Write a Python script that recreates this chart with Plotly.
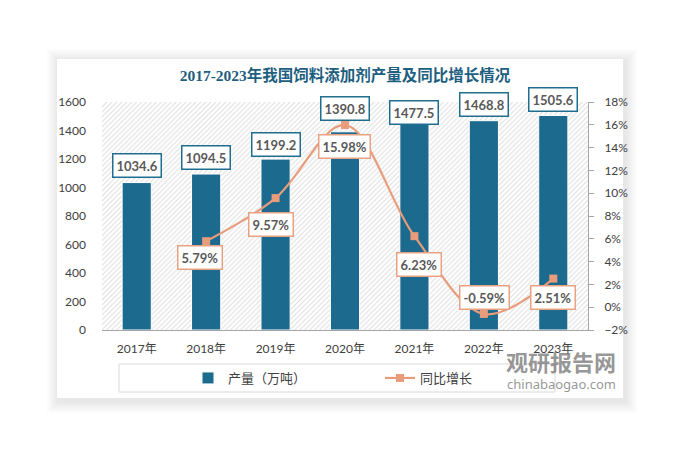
import plotly.graph_objects as go

years = ["2017年", "2018年", "2019年", "2020年", "2021年", "2022年", "2023年"]
output = [1034.6, 1094.5, 1199.2, 1390.8, 1477.5, 1468.8, 1505.6]
growth_years = ["2018年", "2019年", "2020年", "2021年", "2022年", "2023年"]
growth = [5.79, 9.57, 15.98, 6.23, -0.59, 2.51]

# label offsets (px) for readability, as in the reference
bar_label_shift = [15, 14, 12, 21, 4, 14, 13]
line_label_shift = [(-6, -16), (-5, -26), (-1, -21), (5, -28), (1, 16), (0, -19)]

BAR = "#1C6A8D"
LINE = "#E89C7B"
TXT = "#404040"
FONT = "Lato, Noto Sans CJK SC, sans-serif"

W, H = 683, 457
L, R, T, B = 102, 95, 102, 127
PW, PH = W - L - R, H - T - B


def px(x):
    return (x - L) / PW


def py(y):
    return (H - B - y) / PH


fig = go.Figure()

# hatched plot-area background
fig.add_trace(go.Bar(
    x=[years[len(years) // 2]], y=[1600], width=[len(years)],
    marker=dict(color="white", line=dict(width=0),
                pattern=dict(shape="/", fgcolor="#bdbdbd", bgcolor="white",
                             size=3.5, solidity=0.3)),
    showlegend=False, hoverinfo="skip"))

fig.add_trace(go.Bar(
    x=years, y=output, width=0.42, name="产量（万吨）",
    marker=dict(color=BAR, line=dict(color="white", width=1))))

fig.add_trace(go.Scatter(
    x=growth_years, y=growth, yaxis="y2", name="同比增长",
    mode="lines+markers",
    line=dict(color=LINE, width=2.2, shape="spline", smoothing=1),
    marker=dict(symbol="square", size=8, color=LINE)))

annotations = []
for yr, v, s in zip(years, output, bar_label_shift):
    annotations.append(dict(
        x=yr, y=v, xref="x", yref="y", text=f"{v:.1f}", showarrow=False,
        yanchor="bottom", xanchor="center", yshift=s - 10,
        font=dict(family=FONT, size=13, color="#595959", weight="bold"),
        bgcolor="white", bordercolor="#1F6E90", borderwidth=1.5, borderpad=3))
for yr, v, (dx, dy) in zip(growth_years, growth, line_label_shift):
    annotations.append(dict(
        x=yr, y=v, xref="x", yref="y2", text=f"{v:.2f}%", showarrow=False,
        xanchor="center", yanchor="middle",
        xshift=dx, yshift=dy,
        font=dict(family=FONT, size=13, color="#595959", weight="bold"),
        bgcolor="white", bordercolor="#E8A282", borderwidth=1.5, borderpad=3))

# watermark
annotations.append(dict(x=px(561), y=py(361), xref="paper", yref="paper",
                        xanchor="center", yanchor="middle",
                        text="<b>观研报告网</b>", showarrow=False,
                        font=dict(family="Noto Sans CJK SC", size=22,
                                  color="rgba(105,105,105,0.7)")))
annotations.append(dict(x=px(561), y=py(384), xref="paper", yref="paper",
                        xanchor="center", yanchor="middle",
                        text="chinabaogao.com", showarrow=False,
                        font=dict(family="Noto Sans", size=13,
                                  color="rgba(105,105,105,0.7)")))

shapes = []
# card shadow
for i in range(8):
    e = 1.5 * (i + 1)
    shapes.append(dict(type="rect", xref="paper", yref="paper", layer="below",
                       x0=px(57 - e + 2), x1=px(623 + e + 2),
                       y0=py(398 + e + 3), y1=py(59 - e + 2),
                       fillcolor="rgba(0,0,0,0.011)", line=dict(width=0)))
shapes.append(dict(type="rect", xref="paper", yref="paper", layer="below",
                   x0=px(57), x1=px(623), y0=py(398), y1=py(59),
                   fillcolor="white", line=dict(width=0)))
# legend box
shapes.append(dict(type="rect", xref="paper", yref="paper", layer="below",
                   x0=px(119), x1=px(555), y0=py(392), y1=py(364),
                   fillcolor="white", line=dict(color="#d9d9d9", width=1)))

fig.update_layout(
    width=W, height=H,
    margin=dict(l=L, r=R, t=T, b=B, pad=0, autoexpand=False),
    paper_bgcolor="white", plot_bgcolor="rgba(0,0,0,0)",
    barmode="overlay",
    title=dict(text="<b>2017-2023年我国饲料添加剂产量及同比增长情况</b>",
               x=px(345), xref="paper", y=1 - 76 / H, yref="container",
               yanchor="middle", xanchor="center",
               font=dict(family="Liberation Serif, Noto Sans CJK SC, serif",
                         size=15.5, color="#1E5E7F")),
    xaxis=dict(type="category", categoryorder="array", categoryarray=years,
               showgrid=False, showline=True,
               linecolor="#a6a6a6", linewidth=1, ticks="",
               ticklabelstandoff=8,
               tickfont=dict(family=FONT, size=12, color=TXT),
               range=[-0.5, len(years) - 0.5]),
    yaxis=dict(range=[0, 1600], dtick=200, showgrid=False, zeroline=False,
               showline=False, ticks="", ticklabelstandoff=15,
               tickfont=dict(family=FONT, size=12, color=TXT)),
    yaxis2=dict(range=[-2, 18], dtick=2, overlaying="y", side="right",
                ticksuffix="%", showgrid=False, zeroline=False,
                showline=True, linecolor="#a6a6a6", linewidth=1,
                ticks="outside", ticklen=5, tickcolor="#a6a6a6",
                ticklabelstandoff=8,
                tickfont=dict(family=FONT, size=12, color=TXT)),
    legend=dict(orientation="h", x=px(188), y=py(378), xanchor="left",
                yanchor="middle", bgcolor="rgba(0,0,0,0)",
                font=dict(family=FONT, size=13, color=TXT),
                entrywidth=147, entrywidthmode="pixels", traceorder="normal"),
    annotations=annotations, shapes=shapes,
    showlegend=True,
)

fig.write_html("out.html", config={"displayModeBar": False},
               post_script="document.body.style.margin='0';"
                           "document.body.style.padding='0';")
